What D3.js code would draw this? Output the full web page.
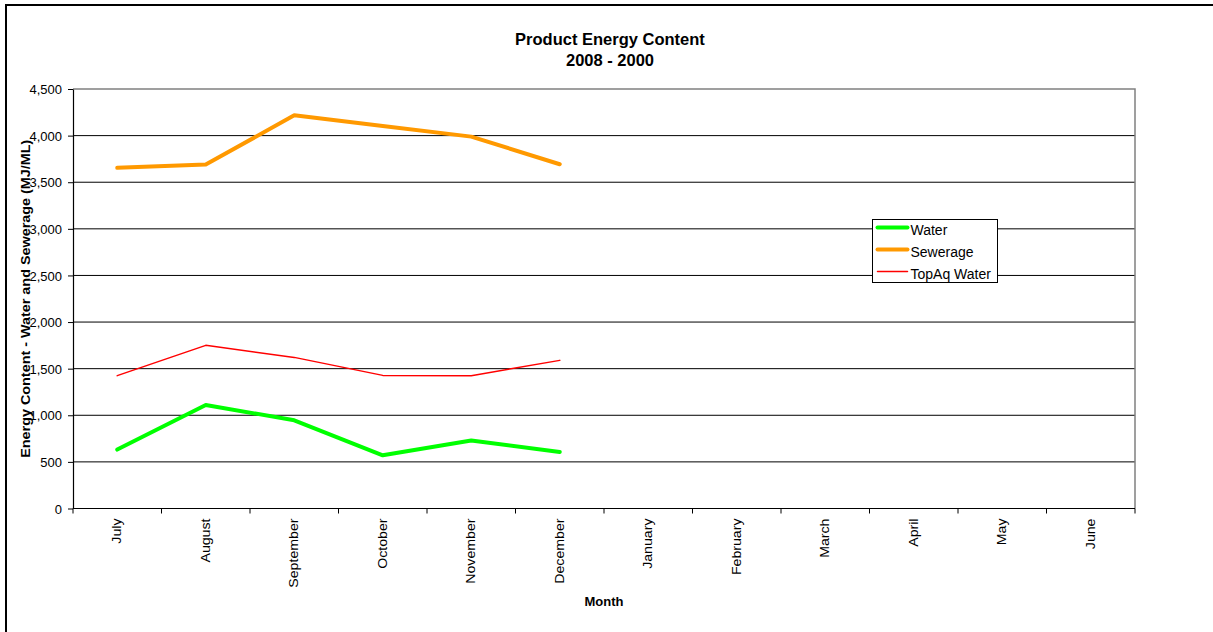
<!DOCTYPE html>
<html>
<head>
<meta charset="utf-8">
<script src="https://cdn.jsdelivr.net/npm/d3@7"></script>
<style>
  html, body { margin: 0; padding: 0; background: #fff; }
  svg { display: block; font-family: "Liberation Sans", Arial, sans-serif; }
</style>
</head>
<body>
<svg id="chart" width="1213" height="632"></svg>
<script>
// Months of the financial year
const months = ["July", "August", "September", "October", "November", "December",
                "January", "February", "March", "April", "May", "June"];

// Energy content per month (MJ/ML); only July–December reported
const water    = [632, 1111, 946, 571, 729, 607];
const sewerage = [3654, 3689, 4218, 4104, 3989, 3693];
const topAq    = [1425, 1750, 1621, 1428, 1425, 1589];

const yTicks = [0, 500, 1000, 1500, 2000, 2500, 3000, 3500, 4000, 4500];

const series = [
  { name: "Water",       values: water,    color: "#00ff00", width: 4 },
  { name: "Sewerage",    values: sewerage, color: "#ff9900", width: 4 },
  { name: "TopAq Water", values: topAq,    color: "#ff0000", width: 1.5 }
];

const svg = d3.select("#chart");
const plot = { left: 73, top: 89, right: 1135, bottom: 508.5 };

// Outer chart frame
svg.append("rect")
  .attr("x", 6).attr("y", 5).attr("width", 1230).attr("height", 650)
  .attr("fill", "none").attr("stroke", "#000").attr("stroke-width", 2);

const x = d3.scaleBand().domain(months).range([plot.left, plot.right]).padding(0);
const y = d3.scaleLinear().domain([0, 4500]).range([plot.bottom, plot.top]);

// Gridlines
svg.append("g")
  .selectAll("line")
  .data(yTicks.filter(d => d > 0 && d < 4500))
  .join("line")
  .attr("x1", plot.left).attr("x2", plot.right)
  .attr("y1", d => y(d)).attr("y2", d => y(d))
  .attr("stroke", "#000").attr("stroke-width", 1);

// Plot area frame (top and right edges)
svg.append("path")
  .attr("d", `M${plot.left},${plot.top}H${plot.right}V${plot.bottom}`)
  .attr("fill", "none").attr("stroke", "#808080").attr("stroke-width", 1.5);

// Y axis
const yAxis = d3.axisLeft(y).tickValues(yTicks).tickSize(5).tickSizeOuter(0)
  .tickFormat(d3.format(","));
const gy = svg.append("g").attr("transform", `translate(${plot.left},0)`).call(yAxis);
gy.select(".domain").attr("stroke", "#000").attr("stroke-width", 1.2);
gy.selectAll(".tick line").attr("stroke", "#000");
gy.selectAll(".tick text")
  .attr("x", -11).attr("dy", "0.36em")
  .attr("font-size", 13).attr("fill", "#000")
  .attr("font-family", "Liberation Sans, Arial, sans-serif");

// X axis: ticks at category boundaries, labels rotated
const gx = svg.append("g").attr("transform", `translate(0,${plot.bottom})`);
gx.append("line")
  .attr("x1", plot.left).attr("x2", plot.right)
  .attr("stroke", "#000").attr("stroke-width", 1.2);
gx.selectAll("line.tick")
  .data(months.concat(["__end"]))
  .join("line")
  .attr("class", "tick")
  .attr("x1", (d, i) => plot.left + i * x.bandwidth())
  .attr("x2", (d, i) => plot.left + i * x.bandwidth())
  .attr("y1", 0).attr("y2", 5)
  .attr("stroke", "#000");
gx.selectAll("text")
  .data(months)
  .join("text")
  .attr("transform", d => `translate(${x(d) + x.bandwidth() / 2 + 4},10) rotate(-90) scale(1.18,1)`)
  .attr("text-anchor", "end")
  .attr("font-size", 12)
  .attr("fill", "#000")
  .text(d => d);

// Series lines
const line = d3.line()
  .x((d, i) => x(months[i]) + x.bandwidth() / 2)
  .y(d => y(d));

svg.append("g")
  .selectAll("path")
  .data([series[2], series[1], series[0]])
  .join("path")
  .attr("d", s => line(s.values))
  .attr("fill", "none")
  .attr("stroke", s => s.color)
  .attr("stroke-width", s => s.width)
  .attr("stroke-linejoin", "round")
  .attr("stroke-linecap", "round");

// Titles
svg.append("text")
  .attr("x", 610).attr("y", 45).attr("text-anchor", "middle")
  .attr("font-size", 16.5).attr("font-weight", "bold")
  .text("Product Energy Content");
svg.append("text")
  .attr("x", 610).attr("y", 66).attr("text-anchor", "middle")
  .attr("font-size", 16.5).attr("font-weight", "bold")
  .text("2008 - 2000");

svg.append("text")
  .attr("x", 604).attr("y", 606).attr("text-anchor", "middle")
  .attr("font-size", 13).attr("font-weight", "bold")
  .text("Month");

svg.append("text")
  .attr("transform", `translate(30,${(plot.top + plot.bottom) / 2}) rotate(-90) scale(1.15,1)`)
  .attr("text-anchor", "middle")
  .attr("font-size", 12.5).attr("font-weight", "bold")
  .text("Energy Content - Water and Sewerage (MJ/ML)");

// Legend
const legend = svg.append("g").attr("transform", "translate(872.5,219.5)");
legend.append("rect")
  .attr("width", 125).attr("height", 63)
  .attr("fill", "#fff").attr("stroke", "#000").attr("stroke-width", 1);
series.forEach((s, i) => {
  const cy = 8 + i * 22;
  legend.append("line")
    .attr("x1", 5).attr("x2", 35).attr("y1", cy).attr("y2", cy)
    .attr("stroke", s.color).attr("stroke-width", s.width)
    .attr("stroke-linecap", "round");
  legend.append("text")
    .attr("x", 38).attr("y", cy + 2).attr("dy", "0.36em")
    .attr("font-size", 14).attr("fill", "#000")
    .text(s.name);
});
</script>
</body>
</html>
